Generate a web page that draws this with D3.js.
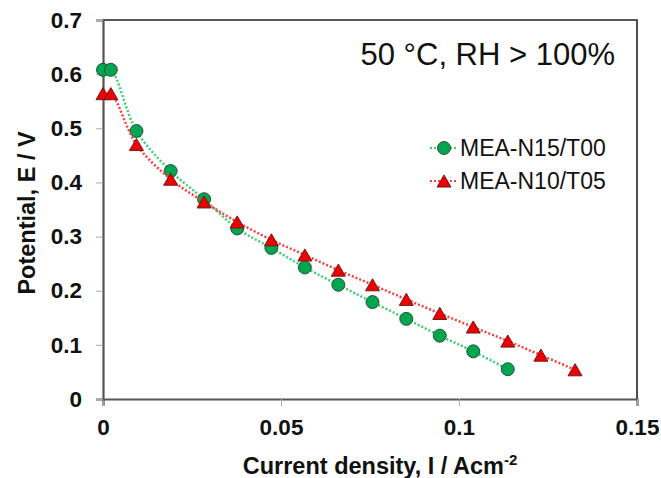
<!DOCTYPE html>
<html>
<head>
<meta charset="utf-8">
<script src="https://cdn.jsdelivr.net/npm/d3@7"></script>
<style>
  body { margin: 0; background: #fff; }
  text { font-family: "Liberation Sans", Arial, sans-serif; }
</style>
</head>
<body>
<div id="chart"></div>
<script>
// data
var currentN15 = [0, 0.0022, 0.0094, 0.019, 0.0284, 0.0377, 0.0473, 0.0567, 0.0661, 0.0757, 0.0852, 0.0946, 0.104, 0.1137];
var potentialN15 = [0.608, 0.608, 0.495, 0.421, 0.369, 0.315, 0.279, 0.243, 0.211, 0.179, 0.148, 0.117, 0.088, 0.055];
var currentN10 = [0, 0.0022, 0.0094, 0.019, 0.0284, 0.0377, 0.0473, 0.0567, 0.0661, 0.0757, 0.0852, 0.0946, 0.104, 0.1137, 0.123, 0.1326];
var potentialN10 = [0.564, 0.564, 0.470, 0.406, 0.364, 0.327, 0.294, 0.266, 0.238, 0.211, 0.184, 0.158, 0.133, 0.107, 0.081, 0.054];
var seriesNames = ["MEA-N15/T00", "MEA-N10/T05"];
var xTicks = [0, 0.05, 0.1, 0.15];
var yTicks = [0, 0.1, 0.2, 0.3, 0.4, 0.5, 0.6, 0.7];

function draw() {
  var w = 661;
  var h = 478;
  var margin = {top: 20, right: 24, bottom: 79, left: 103};

  var svg = d3.select("#chart")
    .append("svg")
    .attr("width", w)
    .attr("height", h);

  //Set up scales
  var xScale = d3.scaleLinear()
    .domain([0, 0.15])
    .range([margin.left, w - margin.right]);
  var yScale = d3.scaleLinear()
    .domain([0, 0.7])
    .range([h - margin.bottom, margin.top]);

  // top and right border
  svg.append("path")
    .attr("d", "M" + xScale(0) + "," + yScale(0.7) + "H" + xScale(0.15) + "V" + yScale(0))
    .attr("fill", "none")
    .attr("stroke", "#222")
    .attr("stroke-width", 1.6);

  //x axis
  var xAxis = svg.append("g")
    .attr("transform", "translate(0," + yScale(0) + ")")
    .call(d3.axisBottom(xScale).tickValues(xTicks).tickSize(7).tickPadding(13)
      .tickFormat(function (d) { return d === 0 ? "0" : String(d); }));
  xAxis.select(".domain").attr("stroke", "#555").attr("stroke-width", 2.2);
  xAxis.selectAll(".tick line").attr("stroke", "#aaa").attr("stroke-width", 1);
  xAxis.selectAll(".tick text")
    .attr("font-size", "22.5px")
    .attr("font-weight", "bold")
    .attr("fill", "#111")
    .style("font-family", "'Liberation Sans', Arial, sans-serif");

  //y axis
  var yAxis = svg.append("g")
    .attr("transform", "translate(" + xScale(0) + ",0)")
    .call(d3.axisLeft(yScale).tickValues(yTicks).tickSize(7).tickPadding(14)
      .tickFormat(function (d) { return d === 0 ? "0" : d3.format(".1f")(d); }));
  yAxis.select(".domain").attr("stroke", "#555").attr("stroke-width", 2.2);
  yAxis.selectAll(".tick line").attr("stroke", "#aaa").attr("stroke-width", 1);
  yAxis.selectAll(".tick text")
    .attr("font-size", "22.5px")
    .attr("font-weight", "bold")
    .attr("fill", "#111")
    .style("font-family", "'Liberation Sans', Arial, sans-serif");

  // axis titles
  var xt = svg.append("text")
    .attr("x", 380)
    .attr("y", 474)
    .attr("text-anchor", "middle")
    .attr("font-size", "23.5px")
    .attr("font-weight", "bold")
    .attr("fill", "#111");
  xt.append("tspan").text("Current density, I / Acm");
  xt.append("tspan").attr("dy", -9).attr("font-size", "15px").text("-2");

  svg.append("text")
    .attr("transform", "translate(35,213) rotate(-90)")
    .attr("text-anchor", "middle")
    .attr("font-size", "23.5px")
    .attr("font-weight", "bold")
    .attr("fill", "#111")
    .text("Potential, E / V");

  // condition label
  svg.append("text")
    .attr("x", 615)
    .attr("y", 65)
    .attr("text-anchor", "end")
    .attr("font-size", "31px")
    .attr("fill", "#111")
    .text("50 \u00B0C, RH > 100%");

  var line = d3.line()
    .x(function (d) { return xScale(d[0]); })
    .y(function (d) { return yScale(d[1]); })
    .curve(d3.curveCatmullRom.alpha(0.5));

  var greenData = d3.zip(currentN15, potentialN15);
  var redData = d3.zip(currentN10, potentialN10);

  var tri = d3.symbol().type(d3.symbolTriangle).size(85);

  // green series
  svg.append("path")
    .datum(greenData)
    .attr("d", line)
    .attr("fill", "none")
    .attr("stroke", "#3ccf6e")
    .attr("stroke-width", 2.5)
    .attr("stroke-dasharray", "2,2");
  svg.selectAll("circle.n15")
    .data(greenData)
    .enter()
    .append("circle")
    .attr("class", "n15")
    .attr("cx", function (d) { return xScale(d[0]); })
    .attr("cy", function (d) { return yScale(d[1]); })
    .attr("r", 6.5)
    .attr("fill", "#00a550")
    .attr("stroke", "#2f4f3a")
    .attr("stroke-width", 1);

  // red series
  svg.append("path")
    .datum(redData)
    .attr("d", line)
    .attr("fill", "none")
    .attr("stroke", "#ff3b3b")
    .attr("stroke-width", 2.5)
    .attr("stroke-dasharray", "2,2");
  svg.selectAll("path.n10")
    .data(redData)
    .enter()
    .append("path")
    .attr("class", "n10")
    .attr("d", tri)
    .attr("transform", function (d) {
      return "translate(" + xScale(d[0]) + "," + (yScale(d[1]) + 2) + ")";
    })
    .attr("fill", "#ee0000")
    .attr("stroke", "#6b1f1f")
    .attr("stroke-width", 1);

  // legend
  var legend = svg.selectAll(".legend")
    .data(seriesNames)
    .enter()
    .append("g")
    .attr("class", "legend")
    .attr("transform", function (d, i) {
      return "translate(444," + (148 + i * 33) + ")";
    });

  legend.append("line")
    .attr("x1", -14)
    .attr("x2", 12)
    .attr("stroke", function (d, i) { return i === 0 ? "#3ccf6e" : "#ff3b3b"; })
    .attr("stroke-width", 2)
    .attr("stroke-dasharray", "2,2");

  legend.each(function (d, i) {
    var g = d3.select(this);
    if (i === 0) {
      g.append("circle").attr("r", 6.5)
        .attr("fill", "#00a550").attr("stroke", "#2f4f3a").attr("stroke-width", 1);
    } else {
      g.append("path").attr("d", tri).attr("transform", "translate(0,2)")
        .attr("fill", "#ee0000").attr("stroke", "#6b1f1f").attr("stroke-width", 1);
    }
  });

  legend.append("text")
    .attr("x", 16)
    .attr("y", 8)
    .attr("font-size", "23px")
    .attr("fill", "#111")
    .text(function (d) { return d; });
}

window.onload = function () {
  draw();
};
</script>
</body>
</html>
